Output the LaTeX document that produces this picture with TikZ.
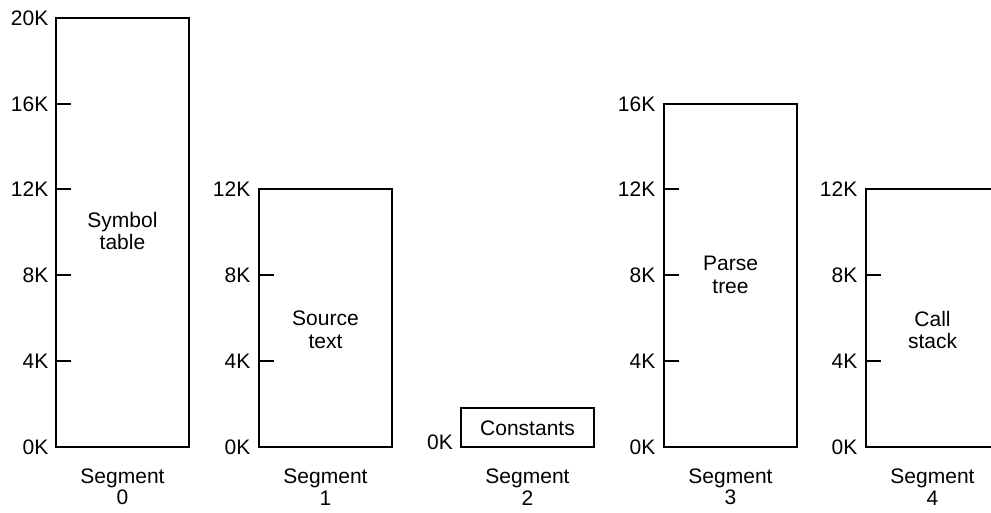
\documentclass[tikz,border=0pt]{standalone}
\usepackage{fontspec}
\setmainfont{Liberation Sans}
\begin{document}
\begin{tikzpicture}[x=1pt,y=-1pt,
  seg/.style={draw,line width=1.8pt},
  tick/.style={line width=1.6pt},
  addr/.style={anchor=east,inner sep=0pt,font=\fontsize{21}{22}\selectfont},
  content/.style={align=center,inner sep=0pt,font=\fontsize{21}{22.5}\selectfont},
  caption/.style={align=center,inner sep=0pt,font=\fontsize{21}{21.5}\selectfont}]
\useasboundingbox (0,0) rectangle (991,512);
\clip (0,0) rectangle (991,512);
% address scale: 4K = 85.75 units, 0K at y = 447

% Segment 0: symbol table, 20K
\draw[seg] (56,18) rectangle (189,447);
\foreach \yy/\lab in {18/20K,104/16K,189/12K,275/8K,361/4K,447/0K}
  \node[addr] at (48.5,\yy) {\lab};
\foreach \yy in {104,189,275,361} \draw[tick] (56,\yy) -- (71,\yy);
\node[content] (s0) at (122.5,231) {Symbol\\table};
\node[caption] (c0) at (122.5,487) {Segment\\0};

% Segment 1: source text, 12K
\draw[seg] (259,189) rectangle (392,447);
\foreach \yy/\lab in {189/12K,275/8K,361/4K,447/0K}
  \node[addr] at (250.5,\yy) {\lab};
\foreach \yy in {275,361} \draw[tick] (259,\yy) -- (274,\yy);
\node[content] (s1) at (325.5,330) {Source\\text};
\node[caption] (c1) at (325.5,487) {Segment\\1};

% Segment 2: constants
\draw[seg] (461,408) rectangle (594,447);
\node[addr] at (453,442) {0K};
\node[content] (s2) at (527.5,428) {Constants};
\node[caption] (c2) at (527.5,487) {Segment\\2};

% Segment 3: parse tree, 16K
\draw[seg] (664,104) rectangle (797,447);
\foreach \yy/\lab in {104/16K,189/12K,275/8K,361/4K,447/0K}
  \node[addr] at (655.5,\yy) {\lab};
\foreach \yy in {189,275,361} \draw[tick] (664,\yy) -- (679,\yy);
\node[content] (s3) at (730.5,275) {Parse\\tree};
\node[caption] (c3) at (730.5,487) {Segment\\3};

% Segment 4: call stack, 12K (runs off the right edge)
\draw[seg] (866,189) rectangle (999,447);
\foreach \yy/\lab in {189/12K,275/8K,361/4K,447/0K}
  \node[addr] at (857.5,\yy) {\lab};
\foreach \yy in {275,361} \draw[tick] (866,\yy) -- (881,\yy);
\node[content] (s4) at (932.5,330) {Call\\stack};
\node[caption] (c4) at (932.5,487) {Segment\\4};
\end{tikzpicture}
\end{document}
